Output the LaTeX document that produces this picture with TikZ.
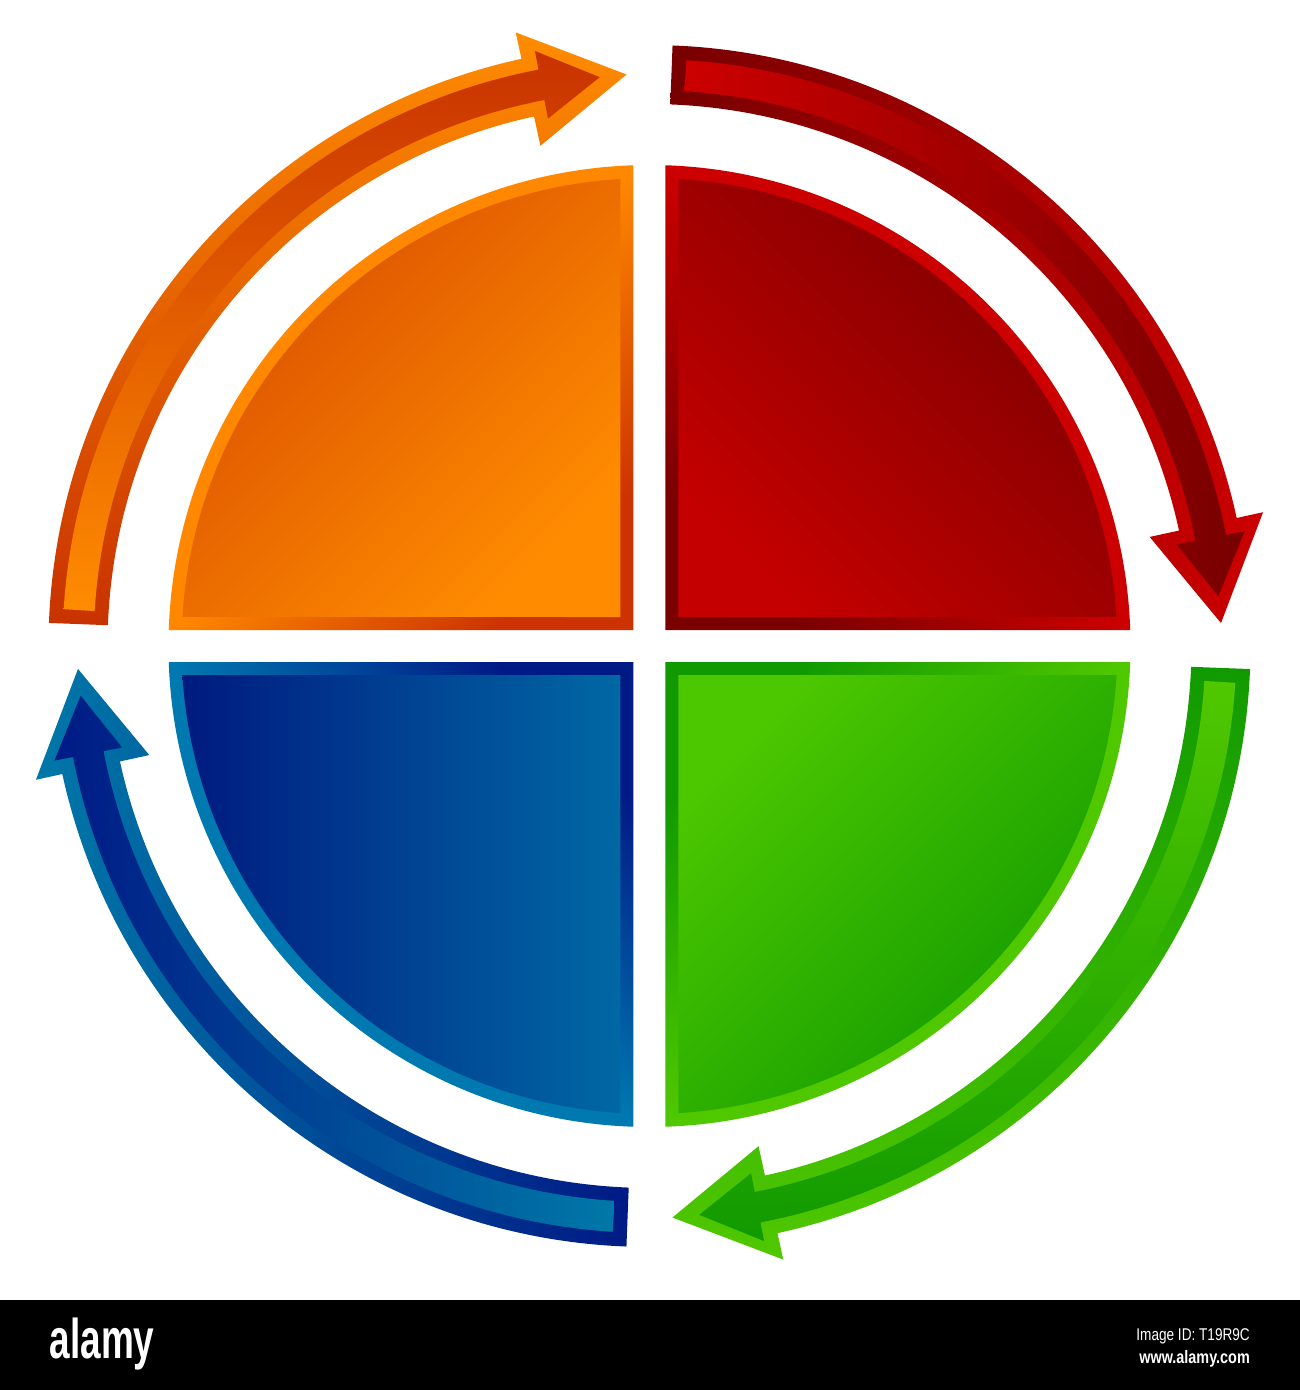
\documentclass[tikz,border=0pt]{standalone}
\usepackage{fontspec}
\setmainfont{Liberation Sans}
\newfontfamily\logofont[FakeStretch=0.66]{Liberation Sans}
\newfontfamily\narrowfont[FakeStretch=0.8]{Liberation Sans}
% arrow colours
\definecolor{aOlight}{HTML}{FF8C00}
\definecolor{aOdark}{HTML}{C83200}
\definecolor{aRlight}{HTML}{CC0000}
\definecolor{aRdark}{HTML}{780000}
\definecolor{aGlight}{HTML}{50C800}
\definecolor{aGdark}{HTML}{119A00}
\definecolor{aBlight}{HTML}{0078A8}
\definecolor{aBdark}{HTML}{001A85}
% quadrant colours
\definecolor{qOfillA}{HTML}{D94E00}
\definecolor{qOfillB}{HTML}{FF8C00}
\definecolor{qObord}{HTML}{FF8800}
\definecolor{qObordD}{HTML}{CC3300}
\definecolor{qRfillA}{HTML}{7A0000}
\definecolor{qRfillB}{HTML}{C40000}
\definecolor{qRbord}{HTML}{CC0000}
\definecolor{qRbordD}{HTML}{7A0000}
\definecolor{qGfillA}{HTML}{4CC800}
\definecolor{qGfillB}{HTML}{109900}
\definecolor{qGbord}{HTML}{50C800}
\definecolor{qGbordD}{HTML}{109900}
\definecolor{qBfillA}{HTML}{001A80}
\definecolor{qBfillB}{HTML}{0068A4}
\definecolor{qBbord}{HTML}{0078B0}
\definecolor{qBbordD}{HTML}{001A85}
% ring arrow outlines, #1 = rotation offset
\newcommand\arrowouter[1]{({177.8+#1}:601) arc[start angle={177.8+#1}, end angle={102.3+#1}, radius=601]
 -- ({102.3+#1}:628) -- ({92.3+#1}:572) -- ({102.3+#1}:512) -- ({102.3+#1}:542)
 arc[start angle={102.3+#1}, end angle={177.8+#1}, radius=542] -- cycle}
\newcommand\arrowinner[1]{({176.4+#1}:587) arc[start angle={176.4+#1}, end angle={100.9+#1}, radius=587]
 -- ({100.9+#1}:606) -- ({95.0+#1}:571) -- ({100.9+#1}:537) -- ({100.9+#1}:556)
 arc[start angle={100.9+#1}, end angle={176.4+#1}, radius=556] -- cycle}
\begin{document}
\begin{tikzpicture}[x=1pt,y=1pt,
  bartext/.style={text=white, inner sep=0pt}]
\useasboundingbox (-649.5,-744) rectangle (650.5,646);
\fill[white] (-649.5,-744) rectangle (650.5,646);

% ---------- quadrants ----------
% orange (top-left)
\shade[top color=qObord, bottom color=qObordD, middle color=qObord, shading angle=45]
  (-16,16) -- (-16,480.73) arc[start angle=91.906, end angle=178.094, radius=481] -- cycle;
\shade[top color=qOfillA, bottom color=qOfillB, shading angle=45]
  (-29,29) -- (-29,467.10) arc[start angle=93.552, end angle=176.448, radius=468] -- cycle;
% red (top-right)
\shade[top color=qRbord, bottom color=qRbordD, middle color=qRbord, shading angle=-45]
  (16,16) -- (16,480.73) arc[start angle=88.094, end angle=1.906, radius=481] -- cycle;
\shade[top color=qRfillA, bottom color=qRfillB, shading angle=-45]
  (29,29) -- (29,467.10) arc[start angle=86.448, end angle=3.552, radius=468] -- cycle;
% blue (bottom-left)
\shade[top color=qBbordD, bottom color=qBbord, middle color=qBbord, shading angle=-45]
  (-16,-16) -- (-16,-480.73) arc[start angle=268.094, end angle=181.906, radius=481] -- cycle;
\shade[left color=qBfillA, right color=qBfillB]
  (-29,-29) -- (-29,-467.10) arc[start angle=266.448, end angle=183.552, radius=468] -- cycle;
% green (bottom-right)
\shade[top color=qGbordD, bottom color=qGbord, middle color=qGbord, shading angle=45]
  (16,-16) -- (16,-480.73) arc[start angle=271.906, end angle=358.094, radius=481] -- cycle;
\shade[top color=qGfillA, bottom color=qGfillB, shading angle=45]
  (29,-29) -- (29,-467.10) arc[start angle=273.552, end angle=356.448, radius=468] -- cycle;

% ---------- ring arrows ----------
% orange: left -> top
\shade[top color=aOlight, bottom color=aOdark] \arrowouter{0};
\shade[top color=aOdark, bottom color=aOlight] \arrowinner{0};
% red: top -> right
\shade[left color=aRdark, right color=aRlight] \arrowouter{-90};
\shade[left color=aRlight, right color=aRdark] \arrowinner{-90};
% green: right -> bottom
\shade[top color=aGdark, bottom color=aGlight] \arrowouter{-180};
\shade[top color=aGlight, bottom color=aGdark] \arrowinner{-180};
% blue: bottom -> left
\shade[right color=aBdark, left color=aBlight] \arrowouter{-270};
\shade[right color=aBlight, left color=aBdark] \arrowinner{-270};

% ---------- footer bar ----------
\fill[black] (-649.5,-654) rectangle (650.5,-744);
\node[bartext, anchor=west, font=\logofont\bfseries\fontsize{56}{56}\selectfont] (logo) at (-600,-698) {alamy};
\node[bartext, anchor=base east, font=\narrowfont\fontsize{17}{17}\selectfont] (imgid) at (600.5,-694) {Image ID: T19R9C};
\node[bartext, anchor=base east, font=\narrowfont\bfseries\fontsize{18}{18}\selectfont] (url) at (600.5,-717) {www.alamy.com};
\end{tikzpicture}
\end{document}
